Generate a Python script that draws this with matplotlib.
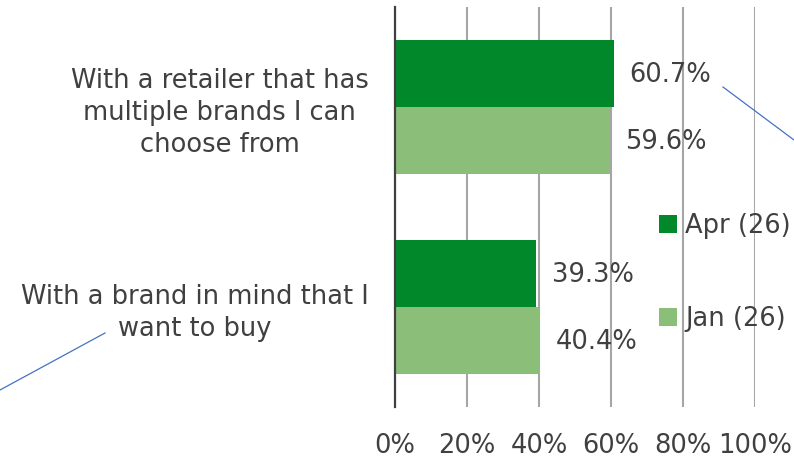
import matplotlib.pyplot as plt
import numpy as np
from matplotlib.lines import Line2D
from matplotlib.ticker import FuncFormatter

# categories listed bottom to top (barh draws the first one lowest)
categories = ['With a brand in mind that I\nwant to buy',
              'With a retailer that has\nmultiple brands I can\nchoose from']
aprValues = [39.3, 60.7]
janValues = [40.4, 59.6]
seriesNames = ['Apr (26)', 'Jan (26)']
xTicks = [0, 20, 40, 60, 80, 100]

darkGreen = '#00882B'
lightGreen = '#8BBE78'
textColor = '#404040'
fontSize = 18.5

fig = plt.figure(figsize=(7.94, 4.63), dpi=100)
ax = fig.add_axes([395 / 794, 56 / 463, 360 / 794, 400 / 463])

y = np.arange(len(categories))
barHeight = 1 / 3.0
aprBars = ax.barh(y + barHeight / 2, aprValues, height=barHeight, color=darkGreen,
                  label=seriesNames[0], zorder=3)
janBars = ax.barh(y - barHeight / 2, janValues, height=barHeight, color=lightGreen,
                  label=seriesNames[1], zorder=3)

# value labels just past the end of every bar
for bars, values in [(aprBars, aprValues), (janBars, janValues)]:
    for bar, val in zip(bars, values):
        ax.annotate('%.1f%%' % val, (val, bar.get_y() + bar.get_height() / 2),
                    xytext=(11, -1), textcoords='offset points', ha='left', va='center',
                    fontsize=fontSize, color=textColor, zorder=4)

ax.set_xlim(0, 100)
ax.set_ylim(-0.5, 1.5)
ax.set_xticks(xTicks)
ax.xaxis.set_major_formatter(FuncFormatter(lambda v, p: '%d%%' % v))
ax.set_yticks(y)
ax.set_yticklabels(categories)
for lbl in ax.get_yticklabels():
    lbl.set_multialignment('center')
    lbl.set_linespacing(1.31)

ax.tick_params(axis='y', length=0, pad=19, labelsize=fontSize, labelcolor=textColor)
ax.tick_params(axis='x', length=0, pad=19, labelsize=fontSize, labelcolor=textColor)

ax.grid(axis='x', color='#A6A6A6', linewidth=1.5, zorder=0)
ax.set_axisbelow(True)
for side in ['top', 'right', 'bottom']:
    ax.spines[side].set_visible(False)
ax.spines['left'].set_color('#404040')
ax.spines['left'].set_linewidth(1.6)
ax.spines['left'].set_zorder(5)

leg = ax.legend(loc='upper left', bbox_to_anchor=(0.706, 0.51), frameon=False,
                fontsize=fontSize, handlelength=0.7, handleheight=0.7,
                handletextpad=0.3, labelspacing=2.6, borderaxespad=0)
for t in leg.get_texts():
    t.set_color(textColor)

# thin blue leader lines
fig.add_artist(Line2D([723 / 794, 1.0], [1 - 87 / 463, 1 - 140 / 463],
                      color='#4472C4', linewidth=0.9))
fig.add_artist(Line2D([0.0, 105 / 794], [1 - 390 / 463, 1 - 333 / 463],
                      color='#4472C4', linewidth=0.9))

fig.savefig('out.png', dpi=100)
